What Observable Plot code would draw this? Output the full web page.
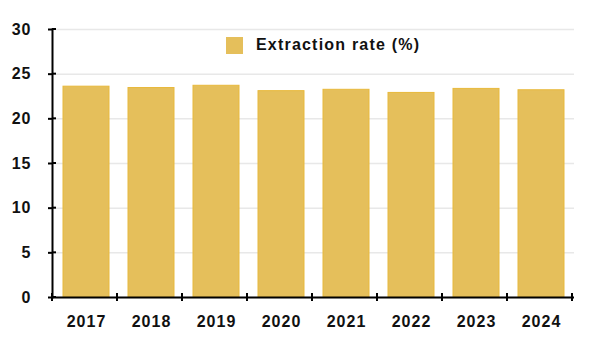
<!DOCTYPE html>
<html>
<head>
<meta charset="utf-8">
<script src="https://cdn.jsdelivr.net/npm/d3@7"></script>
<script src="https://cdn.jsdelivr.net/npm/@observablehq/plot@0.6"></script>
<style>
  body { margin: 0; background: #fff; }
  #wrap { position: relative; width: 600px; height: 343px; font-family: "Liberation Sans", Arial, sans-serif; }
  #legend { position: absolute; left: 226px; top: 36px; display: flex; align-items: center; font-weight: bold; font-size: 16px; letter-spacing: 1.2px; color: #111; }
  #legend .sw { width: 17px; height: 17px; background: #e5bf5b; margin-right: 13px; }
</style>
</head>
<body>
<div id="wrap"></div>
<script>
const years = ["2017", "2018", "2019", "2020", "2021", "2022", "2023", "2024"];
const rates = [23.6, 23.45, 23.7, 23.1, 23.25, 22.9, 23.35, 23.2];
const yTicks = [0, 5, 10, 15, 20, 25, 30];
const seriesName = "Extraction rate (%)";
const barColor = "#e5bf5b";

const data = years.map((year, i) => ({year, rate: rates[i]}));

const extraTicks = (index, scales, values, dimensions) => {
  const g = d3.create("svg:g").attr("stroke", "#000").attr("stroke-width", 2);
  const x = scales.x, y = scales.y;
  const left = dimensions.marginLeft;
  const step = x(years[1]) - x(years[0]);
  const y0 = y(0);
  for (let k = 0; k <= years.length; k++) {
    const bx = left + k * step;
    g.append("line").attr("x1", bx).attr("x2", bx).attr("y1", y0 - 4).attr("y2", y0 + 4);
  }
  for (const t of yTicks) {
    g.append("line").attr("x1", left).attr("x2", left + 4).attr("y1", y(t)).attr("y2", y(t));
  }
  return g.node();
};

const chart = Plot.plot({
  width: 600,
  height: 343,
  marginLeft: 52,
  marginRight: 26,
  marginTop: 29,
  marginBottom: 46,
  style: {fontFamily: "'Liberation Sans', Arial, sans-serif", fontSize: "16px", fontWeight: "bold", color: "#111", letterSpacing: "1px", background: "#fff"},
  x: {domain: years, paddingInner: 0.3, paddingOuter: 0.15, label: null},
  y: {domain: [0, 30], ticks: yTicks, label: null},
  marks: [
    Plot.gridY(yTicks, {stroke: "#e8e8e8", strokeOpacity: 1, strokeWidth: 1.5}),
    Plot.barY(data, {x: "year", y: "rate", fill: barColor, stroke: "#e8b93c", strokeWidth: 1}),
    Plot.axisY(yTicks, {tickSize: 4, tickPadding: 17, stroke: "#000", strokeWidth: 2, fill: "#111"}),
    Plot.axisX({tickSize: 0, tickPadding: 18, fill: "#111"}),
    Plot.ruleY([0], {stroke: "#000", strokeWidth: 2}),
    Plot.frame({anchor: "left", stroke: "#000", strokeWidth: 2}),
    extraTicks
  ]
});

const wrap = document.getElementById("wrap");
wrap.appendChild(chart);
const legend = document.createElement("div");
legend.id = "legend";
legend.innerHTML = `<span class="sw"></span><span>${seriesName}</span>`;
wrap.appendChild(legend);
</script>
</body>
</html>
